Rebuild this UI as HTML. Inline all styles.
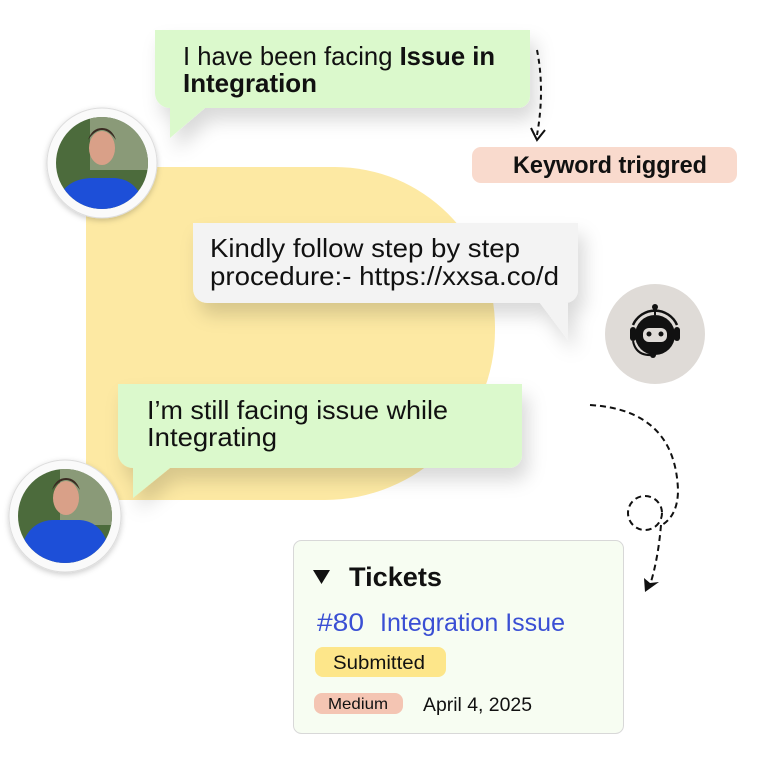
<!DOCTYPE html>
<html><head><meta charset="utf-8"><style>
body{margin:0;width:768px;height:768px;background:#fff;overflow:hidden;font-family:"Liberation Sans",sans-serif}
</style></head><body>
<svg width="768" height="768" viewBox="0 0 768 768" xmlns="http://www.w3.org/2000/svg" style="position:absolute;left:0;top:0">
<defs>
<filter id="sh" x="-20%" y="-30%" width="150%" height="180%"><feDropShadow dx="6" dy="12" stdDeviation="9" flood-color="#000" flood-opacity="0.15"/></filter>
<filter id="sh2" x="-20%" y="-20%" width="140%" height="140%"><feDropShadow dx="0" dy="2" stdDeviation="3" flood-color="#000" flood-opacity="0.2"/></filter>
<clipPath id="c1"><circle cx="102" cy="163" r="46"/></clipPath>
<clipPath id="c2"><circle cx="65" cy="516" r="47"/></clipPath>
</defs>
<path d="M86 167 H335 A160 160 0 0 1 495 327 V330 A170 170 0 0 1 325 500 H86 Z" fill="#fde9a3"/>
<g filter="url(#sh)"><path d="M155 30 H530 V96 A12 12 0 0 1 518 108 H205 L170 138 V108 A15 15 0 0 1 155 93 Z" fill="#dbf9cc"/></g>
<text x="183" y="65" font-size="26" fill="#111" textLength="312" lengthAdjust="spacingAndGlyphs">I have been facing <tspan font-weight="bold">Issue in</tspan></text>
<text x="183" y="92" font-size="26" font-weight="bold" fill="#111" textLength="134" lengthAdjust="spacingAndGlyphs">Integration</text>
<path d="M537 50 Q545 90 537 135" fill="none" stroke="#111" stroke-width="2" stroke-dasharray="5 4"/>
<path d="M531 128 L537 140 L545 130" fill="none" stroke="#111" stroke-width="2"/>
<rect x="472" y="147" width="265" height="36" rx="9" fill="#f9dacd"/>
<text x="513" y="173" font-size="24" font-weight="bold" fill="#111" textLength="194" lengthAdjust="spacingAndGlyphs">Keyword triggred</text>
<circle cx="102" cy="163" r="55" fill="#fafafa" stroke="#ddd" filter="url(#sh2)"/>
<g clip-path="url(#c1)"><rect x="50" y="110" width="110" height="110" fill="#4c6b3c"/><rect x="90" y="110" width="70" height="60" fill="#8a9a78"/><path d="M55 210 Q60 180 90 178 H115 Q140 180 145 210 Z" fill="#1d4fd8"/><ellipse cx="102" cy="148" rx="13" ry="17" fill="#d9a088"/><path d="M88 140 Q102 120 116 140 Q112 128 102 128 Q92 128 88 140Z" fill="#3a2a22"/></g>
<g filter="url(#sh)"><path d="M193 223 H578 V290 A13 13 0 0 1 565 303 H540 L568 340 V303 H207 A14 14 0 0 1 193 289 Z" fill="#f3f3f3"/></g>
<text x="210" y="257" font-size="26" fill="#111" textLength="310" lengthAdjust="spacingAndGlyphs">Kindly follow step by step</text>
<text x="210" y="285" font-size="26" fill="#111" textLength="349" lengthAdjust="spacingAndGlyphs">procedure:- https://xxsa.co/d</text>
<ellipse cx="655" cy="334" rx="50" ry="50" fill="#dfdbd7"/>
<circle cx="655" cy="335" r="20" fill="#111"/>
<rect x="643" y="328" width="24" height="14" rx="6" fill="#dfdbd7"/>
<circle cx="649" cy="334" r="2.5" fill="#111"/><circle cx="661" cy="334" r="2.5" fill="#111"/>
<line x1="655" y1="315" x2="655" y2="308" stroke="#111" stroke-width="2"/><circle cx="655" cy="307" r="3" fill="#111"/>
<path d="M633 325 A24 24 0 0 1 677 325" fill="none" stroke="#111" stroke-width="2.5"/>
<rect x="630" y="327" width="6" height="14" rx="3" fill="#111"/><rect x="674" y="327" width="6" height="14" rx="3" fill="#111"/>
<path d="M633 341 Q636 356 652 355" fill="none" stroke="#111" stroke-width="2"/><circle cx="653" cy="355" r="3" fill="#111"/>
<g filter="url(#sh)"><path d="M118 384 H522 V455 A13 13 0 0 1 509 468 H170 L133 498 V468 A15 15 0 0 1 118 453 Z" fill="#dbf9cc"/></g>
<text x="147" y="419" font-size="26" fill="#111" textLength="301" lengthAdjust="spacingAndGlyphs">I’m still facing issue while</text>
<text x="147" y="446" font-size="26" fill="#111" textLength="130" lengthAdjust="spacingAndGlyphs">Integrating</text>
<circle cx="65" cy="516" r="56" fill="#fafafa" stroke="#ddd" filter="url(#sh2)"/>
<g clip-path="url(#c2)"><rect x="15" y="465" width="100" height="100" fill="#4c6b3c"/><rect x="60" y="465" width="55" height="60" fill="#8a9a78"/><path d="M18 565 Q22 522 52 520 H80 Q108 522 112 565 Z" fill="#1d4fd8"/><ellipse cx="66" cy="498" rx="13" ry="17" fill="#d9a088"/><path d="M52 490 Q66 470 80 490 Q76 478 66 478 Q56 478 52 490Z" fill="#3a2a22"/></g>
<path d="M590 405 Q675 410 678 490 Q678 515 662 525" fill="none" stroke="#111" stroke-width="2" stroke-dasharray="6 4"/>
<circle cx="645" cy="513" r="17" fill="none" stroke="#111" stroke-width="2" stroke-dasharray="6 4"/>
<path d="M661 525 Q658 560 650 585" fill="none" stroke="#111" stroke-width="2" stroke-dasharray="6 4"/>
<path d="M644 578 L645 592 L659 582 L650 583 Z" fill="#111"/>
<rect x="293.5" y="540.5" width="330" height="193" rx="8" fill="#f7fdf2" stroke="#d8d8d8"/>
<path d="M313 570 H330 L321.5 584 Z" fill="#111"/>
<text x="349" y="586" font-size="27" font-weight="bold" fill="#111" textLength="93" lengthAdjust="spacingAndGlyphs">Tickets</text>
<text x="317" y="631" font-size="25" fill="#3a4fd4" textLength="47" lengthAdjust="spacingAndGlyphs">#80</text>
<text x="380" y="631" font-size="25" fill="#3a4fd4" textLength="185" lengthAdjust="spacingAndGlyphs">Integration Issue</text>
<rect x="315" y="647" width="131" height="30" rx="8" fill="#fde68a"/>
<text x="333" y="669" font-size="19" fill="#111" textLength="92" lengthAdjust="spacingAndGlyphs">Submitted</text>
<rect x="314" y="693" width="89" height="21" rx="8" fill="#f4c5b3"/>
<text x="328" y="709" font-size="16" fill="#111" textLength="60" lengthAdjust="spacingAndGlyphs">Medium</text>
<text x="423" y="711" font-size="19" fill="#111" textLength="109" lengthAdjust="spacingAndGlyphs">April 4, 2025</text>
</svg>
</body></html>
